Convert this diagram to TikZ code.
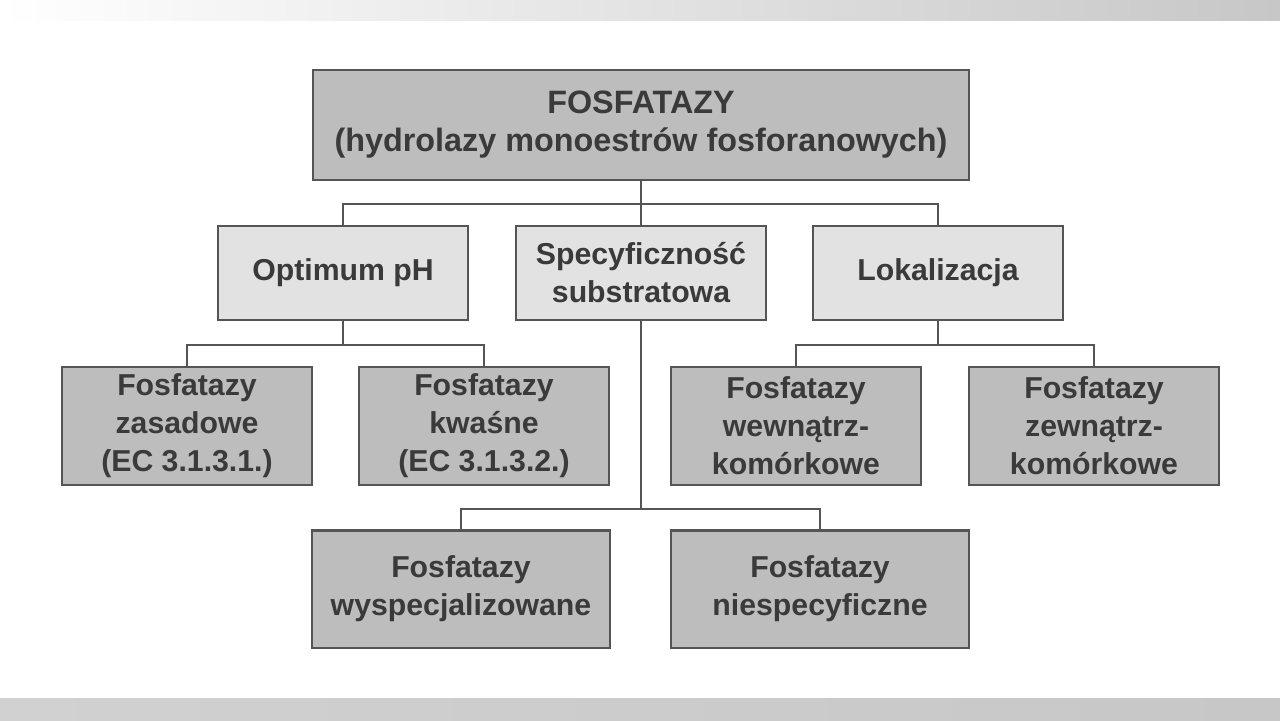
\documentclass[tikz,border=0pt]{standalone}
\usepackage{fontspec}
\setmainfont{Liberation Sans}
\usetikzlibrary{positioning,calc}
\definecolor{ink}{HTML}{3A3A3A}
\definecolor{darkbox}{HTML}{BDBDBD}
\definecolor{lightbox}{HTML}{E2E2E2}
\definecolor{edge}{HTML}{555555}
\begin{document}
\begin{tikzpicture}[x=0.01cm,y=-0.01cm,
       font=\fontsize{8.6pt}{10.8pt}\selectfont\bfseries,
       link/.style={draw=edge,line width=0.6pt}]

    \tikzstyle{box}=[draw=edge,line width=0.6pt,text=ink,align=center,inner sep=0pt]
    \tikzstyle{dark box}=[box,fill=darkbox]
    \tikzstyle{light box}=[box,fill=lightbox]

    \useasboundingbox (0,0) rectangle (1280,720);
    \fill[white] (0,0) rectangle (1280,720);
    \shade[left color=white,right color=black!22] (0,0) rectangle (1280,20);
    \shade[left color=black!18,right color=black!22] (0,698) rectangle (1280,720);

    % top
    \node[dark box,minimum width=656\pgflinewidth/0.6*0.01cm/1pt,minimum width=6.56cm,minimum height=1.10cm] (root) at (641,125)
        {\fontsize{9.2pt}{11.4pt}\selectfont FOSFATAZY\\\fontsize{9.2pt}{11.4pt}\selectfont(hydrolazy monoestrów fosforanowych)};

    % second level
    \node[light box,minimum width=2.50cm,minimum height=0.94cm] (ph) at (343,273) {Optimum pH};
    \node[light box,minimum width=2.50cm,minimum height=0.94cm] (spec) at (641,273) {Specyficzność\\substratowa};
    \node[light box,minimum width=2.50cm,minimum height=0.94cm] (lok) at (938,273) {Lokalizacja};

    % third level
    \node[dark box,minimum width=2.50cm,minimum height=1.18cm] (zas) at (187,426) {Fosfatazy\\zasadowe\\(EC 3.1.3.1.)};
    \node[dark box,minimum width=2.50cm,minimum height=1.18cm] (kwa) at (484,426) {Fosfatazy\\kwaśne\\(EC 3.1.3.2.)};
    \node[dark box,minimum width=2.50cm,minimum height=1.18cm] (wew) at (796,426) {Fosfatazy\\wewnątrz-\\komórkowe};
    \node[dark box,minimum width=2.50cm,minimum height=1.18cm] (zew) at (1094,426) {Fosfatazy\\zewnątrz-\\komórkowe};

    % fourth level
    \node[dark box,minimum width=2.97cm,minimum height=1.17cm] (wys) at (461,589) {Fosfatazy\\wyspecjalizowane};
    \node[dark box,minimum width=2.97cm,minimum height=1.17cm] (nie) at (820,589) {Fosfatazy\\niespecyficzne};

    % connectors
    \draw[link] (root.south) -- ++(0,23) -| (ph.north);
    \draw[link] (root.south) -- ++(0,23) -| (lok.north);
    \draw[link] (root.south) -- (spec.north);
    \draw[link] (ph.south) -- ++(0,24) -| (zas.north);
    \draw[link] (ph.south) -- ++(0,24) -| (kwa.north);
    \draw[link] (lok.south) -- ++(0,24) -| (wew.north);
    \draw[link] (lok.south) -- ++(0,24) -| (zew.north);
    \draw[link] (spec.south) -- ++(0,188) -| (wys.north);
    \draw[link] (spec.south) -- ++(0,188) -| (nie.north);
\end{tikzpicture}
\end{document}
